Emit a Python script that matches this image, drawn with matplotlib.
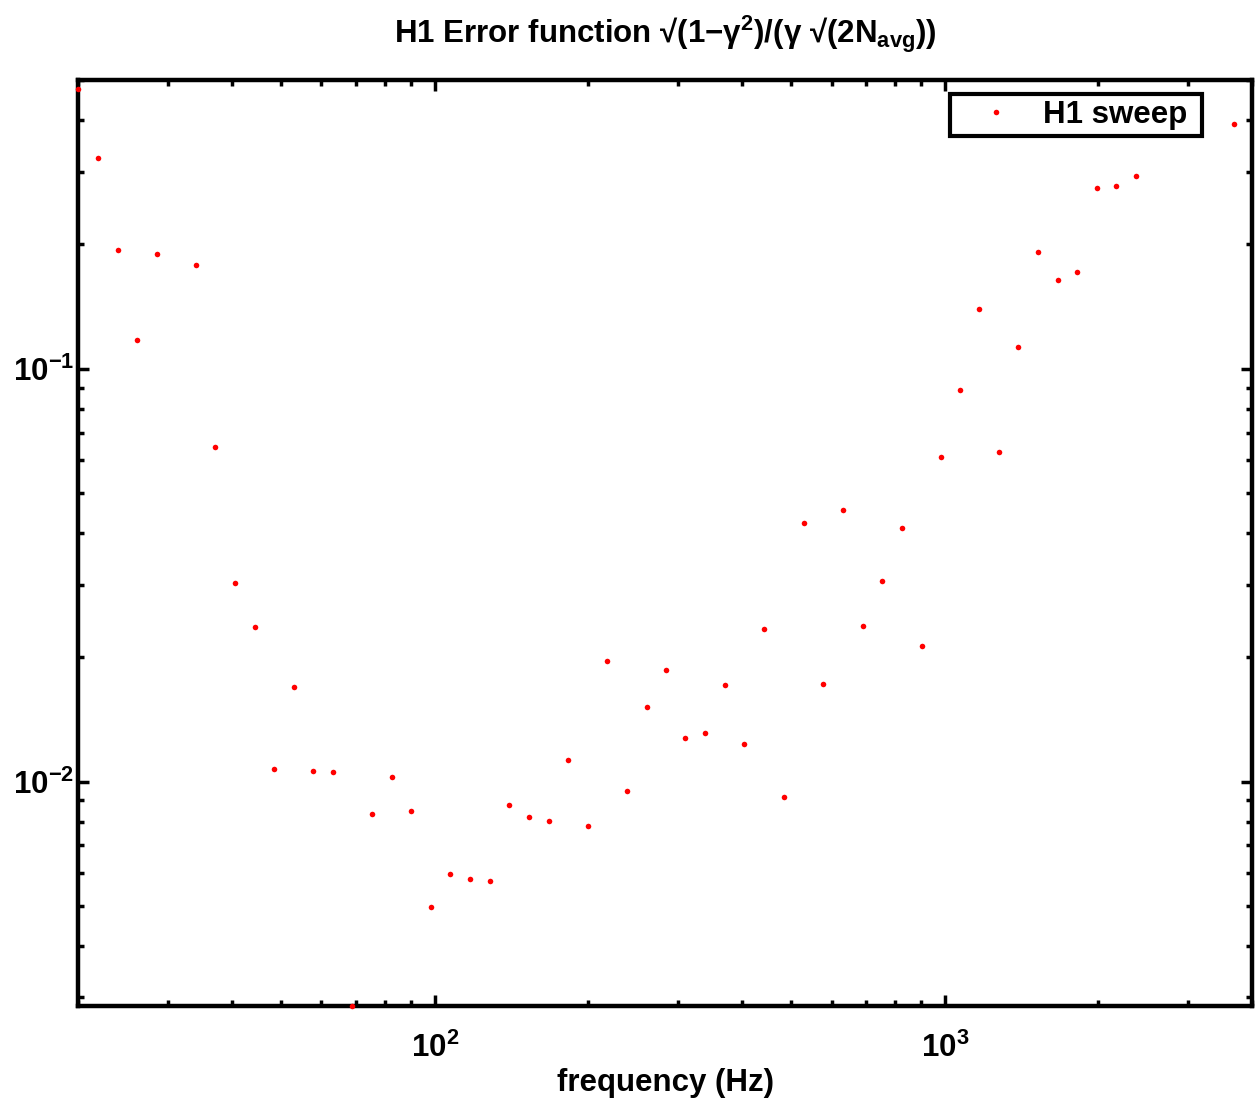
import matplotlib
matplotlib.use('Agg')
import matplotlib.pyplot as plt
from matplotlib.ticker import NullFormatter, LogLocator

# frequency sweep points (Hz) and error estimate
freq = [20.0, 21.9, 23.9, 26.1, 28.5, 34.1, 37.1, 40.6, 44.4, 48.5,
        52.9, 57.8, 63.1, 69.0, 75.4, 82.4, 90.0, 98.2, 107.3, 117.3,
        128.1, 139.8, 152.9, 167.2, 182.7, 199.6, 217.9, 238.1, 260.2, 284.4,
        310.1, 339.0, 370.4, 404.7, 442.3, 483.2, 528.5, 577.4, 631.5, 690.1,
        754.7, 824.6, 902.0, 982.0, 1068.6, 1168.0, 1276.0, 1394.0, 1522.0, 1663.0,
        1817.0, 1986.0, 2170.0, 2368.0, 3684.0]
err = [0.476, 0.3234, 0.194, 0.1171, 0.1898, 0.1778, 0.06477, 0.03031, 0.02366, 0.01073,
       0.01698, 0.01063, 0.01055, 0.00286, 0.00833, 0.01026, 0.00849, 0.004964, 0.005974, 0.00581,
       0.005727, 0.008764, 0.008207, 0.008044, 0.0113, 0.007823, 0.01958, 0.009459, 0.01513, 0.0186,
       0.01278, 0.01309, 0.01716, 0.01231, 0.0234, 0.009148, 0.04222, 0.01719, 0.0454, 0.02384,
       0.03064, 0.04116, 0.02133, 0.06114, 0.08896, 0.1397, 0.06272, 0.113, 0.1912, 0.1641,
       0.171, 0.2746, 0.2768, 0.292, 0.3923]

xlim = (20, 4000)
ylim = (0.00286, 0.5)

plt.rcParams['font.family'] = 'Liberation Sans'
plt.rcParams['font.weight'] = 'bold'
plt.rcParams['mathtext.fontset'] = 'custom'
plt.rcParams['mathtext.rm'] = 'Liberation Sans:bold'
plt.rcParams['mathtext.bf'] = 'Liberation Sans:bold'
plt.rcParams['mathtext.it'] = 'Liberation Sans:bold'
plt.rcParams['mathtext.default'] = 'bf'

fs = 22.5

fig = plt.figure(figsize=(12.55, 11.01), dpi=100)
ax = fig.add_axes([0.0622, 0.0863, 0.9354, 0.841])

ax.plot(freq, err, 'o', color='red', markersize=4.0, markeredgewidth=0,
        label='H1 sweep ', clip_on=False, zorder=5)
ax.set_xscale('log')
ax.set_yscale('log')
ax.set_xlim(xlim)
ax.set_ylim(ylim)

for sp in ax.spines.values():
    sp.set_linewidth(3.2)

ax.xaxis.set_minor_locator(LogLocator(base=10, subs=range(2, 10)))
ax.yaxis.set_minor_locator(LogLocator(base=10, subs=range(2, 10)))
ax.xaxis.set_minor_formatter(NullFormatter())
ax.yaxis.set_minor_formatter(NullFormatter())
ax.tick_params(which='both', direction='in', top=True, right=True, labelsize=fs)
ax.tick_params(which='major', length=8, width=2.5)
ax.tick_params(which='minor', length=4, width=2.5)
ax.tick_params(axis='x', which='major', pad=19)
ax.tick_params(axis='y', which='major', pad=3)

ax.set_xlabel('frequency (Hz)', fontsize=fs, fontweight='bold', labelpad=3)
ax.set_title('H1 Error function √(1−γ$^2$)/(γ √(2N$_{avg}$))',
             fontsize=fs, fontweight='bold', pad=27)

leg = ax.legend(loc='upper right', bbox_to_anchor=(0.9574, 0.985), fontsize=fs,
                frameon=True, fancybox=False, handlelength=2.5, handletextpad=0.26,
                borderpad=0.2, borderaxespad=0, framealpha=1, markerscale=1.0)
leg.get_frame().set_edgecolor('black')
leg.get_frame().set_linewidth(3.0)

fig.savefig('out.png', dpi=100)
